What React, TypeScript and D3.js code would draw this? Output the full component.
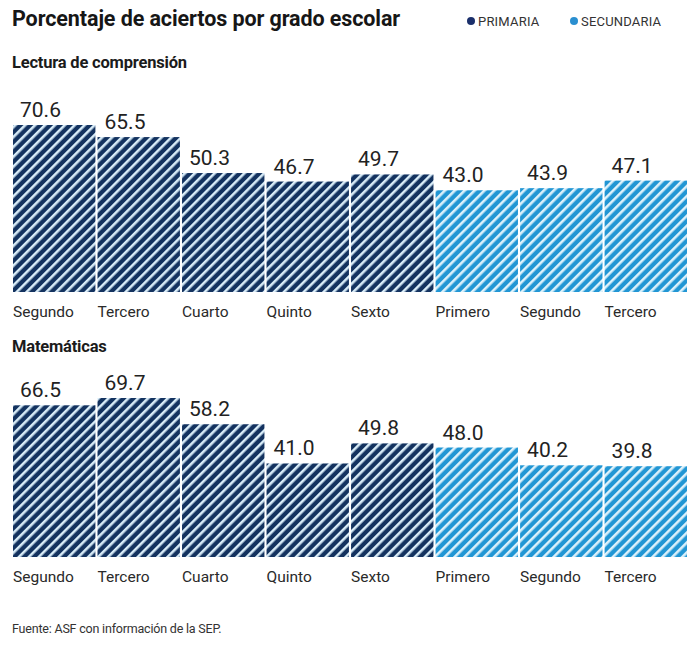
import React from "react";
import * as d3 from "d3";

const grades = ["Segundo", "Tercero", "Cuarto", "Quinto", "Sexto", "Primero", "Segundo", "Tercero"];
const levels = ["primaria", "primaria", "primaria", "primaria", "primaria", "secundaria", "secundaria", "secundaria"];
const lectura = [70.6, 65.5, 50.3, 46.7, 49.7, 43.0, 43.9, 47.1];
const matematicas = [66.5, 69.7, 58.2, 41.0, 49.8, 48.0, 40.2, 39.8];
const legendItems = [
  { key: "primaria", label: "PRIMARIA" },
  { key: "secundaria", label: "SECUNDARIA" },
];

const width = 687;
const height = 647;
const font = "Roboto, 'Open Sans', sans-serif";

const colors: Record<string, { dark: string; light: string; dot: string }> = {
  primaria: { dark: "#13325f", light: "#d8ecf8", dot: "#1a2f6b" },
  secundaria: { dark: "#2196d4", light: "#dcf1fb", dot: "#2a8fd0" },
};

const keys = grades.map((g, i) => `${levels[i]}-${g}-${i}`);

const x = d3.scaleBand<string>().domain(keys).range([13, width]).paddingInner(0.025).paddingOuter(0);

const Panel = ({ title, values, titleY, base, top }: { title: string; values: number[]; titleY: number; base: number; top: number }) => {
  const y = d3.scaleLinear().domain([0, d3.max(values) as number]).range([base, top]);
  return (
    <g>
      <text x={12} y={titleY} fontFamily={font} fontWeight={700} fontSize={16.5} fill="#1b1b1b" letterSpacing={-0.2}>
        {title}
      </text>
      {values.map((v, i) => {
        const bx = x(keys[i]) as number;
        return (
          <g key={i}>
            <rect x={bx} y={y(v)} width={x.bandwidth()} height={base - y(v)} fill={`url(#stripes-${levels[i]})`} />
            <text x={bx + 7} y={y(v) - 8} fontFamily={font} fontSize={21} fill="#222">
              {v.toFixed(1)}
            </text>
            <text x={bx} y={base + 25} fontFamily={font} fontSize={15.5} fill="#2a2a2a">
              {grades[i]}
            </text>
          </g>
        );
      })}
    </g>
  );
};

export default function App() {
  return (
    <svg width={width} height={height} style={{ position: "absolute", left: 0, top: 0, background: "#fff" }}>
      <defs>
        {Object.entries(colors).map(([k, c]) => (
          <pattern key={k} id={`stripes-${k}`} patternUnits="userSpaceOnUse" width={7} height={7} patternTransform="rotate(45)">
            <rect width={7} height={7} fill={c.dark} />
            <rect x={0} width={2.6} height={7} fill={c.light} />
          </pattern>
        ))}
      </defs>
      <text x={12} y={26} fontFamily={font} fontWeight={700} fontSize={21.5} fill="#161616" letterSpacing={-0.1}>
        Porcentaje de aciertos por grado escolar
      </text>
      {legendItems.map((l, i) => {
        const lx = i === 0 ? 471 : 574;
        return (
          <g key={l.key}>
            <circle cx={lx} cy={21} r={4} fill={colors[l.key].dot} />
            <text x={lx + 7} y={26} fontFamily={font} fontSize={13} fill="#333" letterSpacing={0.2}>
              {l.label}
            </text>
          </g>
        );
      })}
      <Panel title="Lectura de comprensión" values={lectura} titleY={68} base={292} top={125} />
      <Panel title="Matemáticas" values={matematicas} titleY={352} base={557} top={398} />
      <text x={12} y={633} fontFamily={font} fontSize={12.5} fill="#333" letterSpacing={-0.2}>
        Fuente: ASF con información de la SEP.
      </text>
    </svg>
  );
}
